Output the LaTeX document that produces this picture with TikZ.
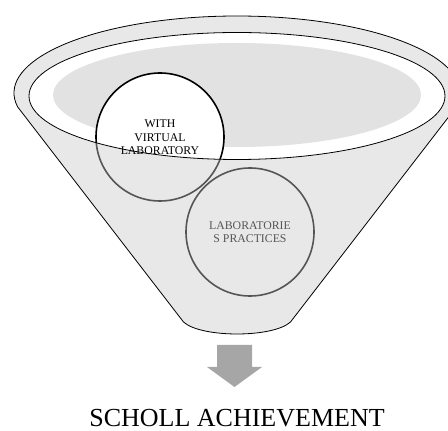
\documentclass[tikz,border=0pt]{standalone}
\usepackage{fontspec}
\setmainfont{Liberation Serif}
\definecolor{funnelgray}{HTML}{E8E8E8}
\definecolor{poolgray}{HTML}{E2E2E2}
\definecolor{ringgray}{HTML}{555555}
\definecolor{arrowgray}{HTML}{A6A6A6}
\begin{document}
\begin{tikzpicture}[x=1pt,y=1pt,
  funnelbody/.style={fill=funnelgray, draw=black, line width=0.8pt},
  bubble/.style={circle, minimum size=128pt, inner sep=0pt, draw=ringgray, line width=1.6pt, fill=funnelgray},
  bubbletext/.style={align=center, inner sep=0pt, font=\fontsize{11.8}{13.5}\selectfont},
  rim/.style={draw=black, line width=0.8pt}]
\useasboundingbox (0,0) rectangle (448,431);

% funnel body: upper elliptic rim, slanted sides and rounded bottom
\path[funnelbody] (237,338) ++(190.5:223 and 77)
  arc[start angle=190.5, end angle=-10.5, x radius=223, y radius=77]
  -- (290.5,109) .. controls (273,93) and (201,93) .. (183.5,109) -- cycle;

% lower circle
\node[bubble, text=ringgray, bubbletext] (practices) at (250,199) {LABORATORIE\\S PRACTICES};

% upper circle, the part below the opening
\node[bubble] (virtual) at (160,294) {};

% opening of the funnel
\fill[white] (237,335) ellipse[x radius=208, y radius=63.5];
\fill[poolgray] (237,336) ellipse[x radius=184, y radius=52];

% upper circle, the part seen through the opening
\begin{scope}
  \clip (237,335) ellipse[x radius=208, y radius=63.5];
  \draw[fill=white, draw=black, line width=1.6pt] (virtual.center) circle[radius=64];
\end{scope}
\node[bubbletext] (virtualtext) at (160,293.5) {WITH\\VIRTUAL\\LABORATORY};

% rim of the opening
\draw[rim] (237,335) ellipse[x radius=208, y radius=63.5];

% downward block arrow
\fill[arrowgray] (217,86) -- (252,86) -- (252,64) -- (262,64) -- (234.5,44)
  -- (207,64) -- (217,64) -- cycle;

% outcome
\node[anchor=base, inner sep=0pt, font=\fontsize{26}{30}\selectfont] (result) at (237,4.5) {SCHOLL ACHIEVEMENT};
\end{tikzpicture}
\end{document}
